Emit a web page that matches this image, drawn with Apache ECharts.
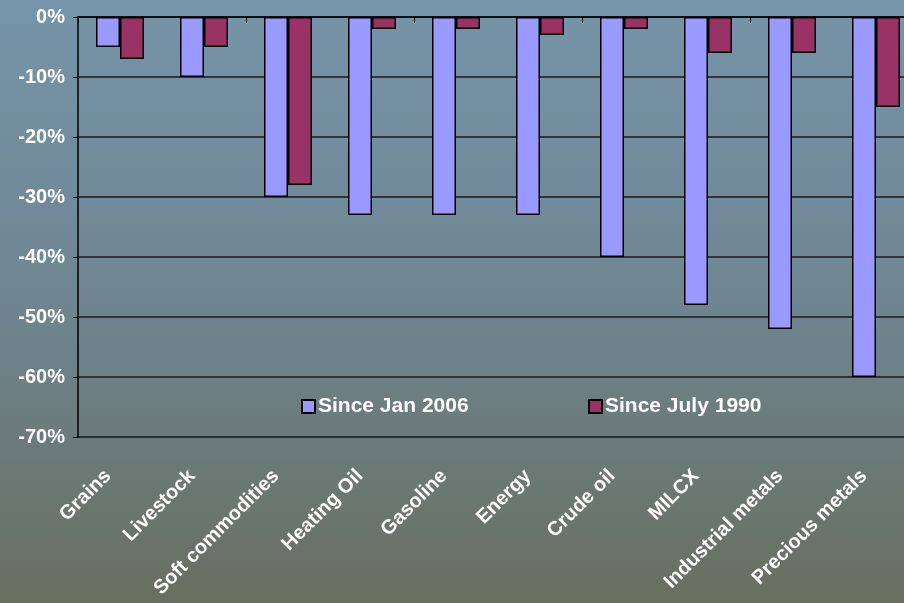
<!DOCTYPE html>
<html><head><meta charset="utf-8">
<script src="https://cdn.jsdelivr.net/npm/echarts@6/dist/echarts.min.js"></script>
<style>html,body{margin:0;padding:0;}#c{width:904px;height:603px;}</style>
</head><body><div id="c"></div>
<script>
const categories = ["Grains","Livestock","Soft commodities","Heating Oil","Gasoline","Energy","Crude oil","MILCX","Industrial metals","Precious metals"];
const sinceJan2006 = [-5,-10,-30,-33,-33,-33,-40,-48,-52,-60];
const sinceJuly1990 = [-7,-5,-28,-2,-2,-3,-2,-6,-6,-15];
const seriesNames = ["Since Jan 2006","Since July 1990"];

const chart = echarts.init(document.getElementById('c'));
const font = 'Arial, "Liberation Sans", sans-serif';
chart.setOption({
  animation:false,
  backgroundColor:{type:'linear',x:0,y:0,x2:0,y2:1,colorStops:[
    {offset:0,color:'#7694a9'},{offset:0.5,color:'#6f8591'},{offset:1,color:'#686f5f'}]},
  grid:{left:78,width:840,top:17,height:420,containLabel:false,outerBoundsMode:'none'},
  legend:[
    {data:[seriesNames[0]],left:296,top:391,itemWidth:13,itemHeight:13,itemGap:0,
     textStyle:{color:'#fff',fontWeight:'bold',fontSize:21,fontFamily:font,padding:[0,0,0,-2]},icon:'rect'},
    {data:[seriesNames[1]],left:583,top:391,itemWidth:13,itemHeight:13,itemGap:0,
     textStyle:{color:'#fff',fontWeight:'bold',fontSize:21,fontFamily:font,padding:[0,0,0,-2]},icon:'rect'}
  ],
  xAxis:[
    {type:'category',data:categories,position:'bottom',
     axisLine:{show:false,onZero:false},axisTick:{show:false},
     axisLabel:{rotate:45,interval:0,color:'#fff',fontWeight:'bold',fontSize:20,fontFamily:font,margin:24,padding:[0,17,0,0]}},
    {type:'category',data:categories,position:'top',
     axisLine:{show:true,onZero:false,lineStyle:{color:'#000',width:1.5}},
     axisTick:{show:true,inside:true,length:6,lineStyle:{color:'#000'}},
     axisLabel:{show:false}}
  ],
  yAxis:{type:'value',min:-70,max:0,interval:10,
    axisLine:{show:true,lineStyle:{color:'#000',width:1.5}},
    axisTick:{show:true,length:5,lineStyle:{color:'#000'}},
    splitLine:{show:true,lineStyle:{color:'#1a1a1a',width:1.5}},
    axisLabel:{formatter:'{value}%',color:'#fff',fontWeight:'bold',fontSize:20,fontFamily:font,margin:13}},
  series:[
    {name:seriesNames[0],type:'bar',data:sinceJan2006,barWidth:24,barGap:'0%',
     itemStyle:{color:'#9999ff',borderColor:'#000',borderWidth:1.5}},
    {name:seriesNames[1],type:'bar',data:sinceJuly1990,barWidth:24,barGap:'0%',
     itemStyle:{color:'#993366',borderColor:'#000',borderWidth:1.5}}
  ]
});
</script></body></html>
